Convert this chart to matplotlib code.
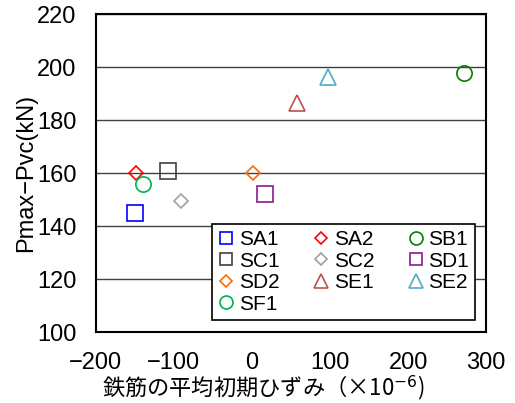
import matplotlib
matplotlib.use("Agg")
import matplotlib.pyplot as plt

plt.rcParams['font.family'] = ['Liberation Sans', 'Noto Sans CJK JP', 'DejaVu Sans']

names = ["SA1", "SA2", "SB1", "SC1", "SC2", "SD1", "SD2", "SE1", "SE2", "SF1"]
strain = [-150, -148, 272, -108, -91, 17, 2, 58, 97, -139]
pvalues = [144.8, 160.0, 197.6, 160.8, 149.6, 152.0, 159.9, 186.5, 196.2, 155.8]
markers = ["s", "D", "o", "s", "D", "s", "D", "^", "^", "o"]
colors = ["#0000FF", "#FF0000", "#008000", "#404040", "#A0A0A0",
          "#8B1A8B", "#FF6A00", "#C0504D", "#4BACC6", "#00B050"]
msizes = [11, 7.5, 11, 11, 7.5, 11, 7.5, 12, 12, 11]

xticks = [-200, -100, 0, 100, 200, 300]
yticks = [100, 120, 140, 160, 180, 200, 220]

fig = plt.figure(figsize=(5.15, 4.03), dpi=100)
ax = fig.add_axes([0.186, 0.176, 0.758, 0.789])

handles = {}
for n, x, y, m, c, s in zip(names, strain, pvalues, markers, colors, msizes):
    h, = ax.plot([x], [y], linestyle="none", marker=m, markersize=s,
                 markerfacecolor="none", markeredgecolor=c, markeredgewidth=1.2,
                 label=n, zorder=3)
    handles[n] = h

ax.set_xlim(-200, 300)
ax.set_ylim(100, 220)
ax.set_xticks(xticks)
ax.set_yticks(yticks)
ax.set_xticklabels([str(t).replace("-", "\u2212") for t in xticks])
ax.yaxis.grid(True, color="#404040", linewidth=1.0)
ax.set_axisbelow(True)
ax.tick_params(axis="y", length=0, labelsize=17, pad=14)
ax.tick_params(axis="x", length=0, labelsize=17, pad=14)
for sp in ax.spines.values():
    sp.set_linewidth(1.5)
    sp.set_color("black")

ax.set_ylabel("Pmax\u2212Pvc(kN)", fontsize=17, labelpad=0)
ax.set_xlabel("鉄筋の平均初期ひずみ（×10$^{-6}$)", fontsize=16,
              fontfamily="Noto Sans CJK JP")
ax.xaxis.set_label_coords(0.43, -0.13)

# row-wise legend order
order = ["SA1", "SC1", "SD2", "SF1", "SA2", "SC2", "SE1", "SB1", "SD1", "SE2"]
leg = ax.legend([handles[k] for k in order], order, ncol=3, loc="lower right",
                bbox_to_anchor=(0.972, 0.038),
                borderaxespad=0, fontsize=15, frameon=True, fancybox=False,
                edgecolor="black", framealpha=1, handlelength=0.8,
                handletextpad=0.2, columnspacing=1.6, labelspacing=0.12,
                borderpad=0.3, markerscale=0.85)
leg.get_frame().set_linewidth(1.2)

fig.savefig("out.png", dpi=100)
